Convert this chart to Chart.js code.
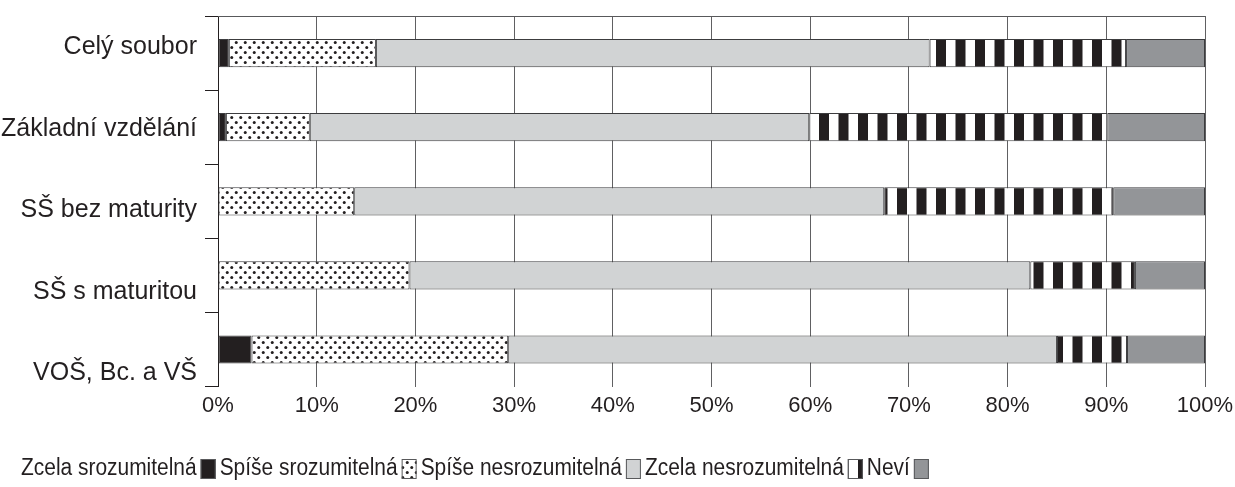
<!DOCTYPE html>
<html lang="cs">
<head>
<meta charset="UTF-8">
<title>Srozumitelnost podle vzdělání</title>
<script src="https://cdn.jsdelivr.net/npm/chart.js@4.4.1/dist/chart.umd.min.js"></script>
<style>
    html, body { margin: 0; padding: 0; background: #fff; }
    .chart-box { position: relative; width: 1235px; height: 487px; }
</style>
</head>
<body>
<div class="chart-box"><canvas id="chart"></canvas></div>
<script>
// data (percent of respondents)
const categories = ['Celý soubor', 'Základní vzdělání', 'SŠ bez maturity', 'SŠ s maturitou', 'VOŠ, Bc. a VŠ'];
const seriesNames = ['Zcela srozumitelná', 'Spíše srozumitelná', 'Spíše nesrozumitelná', 'Zcela nesrozumitelná', 'Neví'];
const zcelaSroz   = [1.1, 0.8, 0, 0, 3.4];
const spiseSroz   = [14.9, 8.5, 13.8, 19.4, 26.0];
const spiseNesroz = [56.1, 50.6, 53.7, 62.9, 55.6];
const zcelaNesroz = [19.9, 30.2, 23.2, 10.6, 7.1];
const nevi        = [8.0, 9.9, 9.3, 7.1, 7.9];
const xTicks = [0, 10, 20, 30, 40, 50, 60, 70, 80, 90, 100];

const INK = '#231f20';
const FONT = '"Liberation Sans", Arial, sans-serif';

// pattern fills
function dotPattern() {
    const c = document.createElement('canvas');
    c.width = 9; c.height = 10;
    const g = c.getContext('2d');
    g.fillStyle = '#fff';
    g.fillRect(0, 0, 9, 10);
    g.fillStyle = INK;
    [[2.25, 2.5], [6.75, 7.5]].forEach(p => {
        g.beginPath();
        g.arc(p[0], p[1], 1.5, 0, Math.PI * 2);
        g.fill();
    });
    return g.createPattern(c, 'repeat');
}
function stripePattern() {
    const c = document.createElement('canvas');
    c.width = 39; c.height = 4;
    const g = c.getContext('2d');
    g.fillStyle = '#fff';
    g.fillRect(0, 0, 39, 4);
    g.fillStyle = INK;
    g.fillRect(0, 0, 10, 4);
    g.fillRect(19.5, 0, 10, 4);
    return g.createPattern(c, 'repeat');
}

const fills = [INK, dotPattern(), '#d1d3d4', stripePattern(), '#939598'];
const values = [zcelaSroz, spiseSroz, spiseNesroz, zcelaNesroz, nevi];

// category labels sit a bit lower each row in the original
const yLabels = {
    id: 'yLabels',
    afterDraw(chart) {
        const { ctx, chartArea } = chart;
        const h = chartArea.bottom - chartArea.top;
        ctx.save();
        ctx.font = '25px ' + FONT;
        ctx.fillStyle = INK;
        ctx.textAlign = 'right';
        ctx.textBaseline = 'middle';
        categories.forEach((name, i) => {
            ctx.fillText(name, chartArea.left - 21, chartArea.top + h * (0.084 + i * 0.22));
        });
        // top frame line
        ctx.strokeStyle = '#58595b';
        ctx.lineWidth = 1;
        ctx.beginPath();
        ctx.moveTo(chartArea.left, chartArea.top + 0.5);
        ctx.lineTo(chartArea.right, chartArea.top + 0.5);
        ctx.stroke();
        ctx.restore();
    }
};

// legend: text first, swatch after it (text a little narrow, like the original)
const textLegend = {
    id: 'textLegend',
    afterDraw(chart) {
        const ctx = chart.ctx;
        const y = 469;
        const squeeze = 0.91;
        let x = 21;
        ctx.save();
        ctx.font = '23px ' + FONT;
        ctx.textBaseline = 'middle';
        ctx.textAlign = 'left';
        chart.data.datasets.forEach(ds => {
            ctx.save();
            ctx.translate(x, y);
            ctx.scale(squeeze, 1);
            ctx.fillStyle = INK;
            ctx.fillText(ds.label, 0, 0);
            ctx.restore();
            x += ctx.measureText(ds.label).width * squeeze + 4;
            ctx.fillStyle = ds.backgroundColor;
            ctx.fillRect(x, y - 10, 15, 20);
            ctx.strokeStyle = '#58595b';
            ctx.lineWidth = 1;
            ctx.strokeRect(x + 0.5, y - 9.5, 14, 19);
            x += 15 + 4;
        });
        ctx.restore();
    }
};

new Chart(document.getElementById('chart'), {
    type: 'bar',
    data: {
        labels: categories,
        datasets: seriesNames.map((name, i) => ({
            label: name,
            data: values[i],
            backgroundColor: fills[i],
            borderColor: '#3c3c3e',
            borderWidth: 1,
            borderSkipped: false,
            categoryPercentage: 1,
            barPercentage: 0.38
        }))
    },
    options: {
        indexAxis: 'y',
        responsive: true,
        maintainAspectRatio: false,
        animation: false,
        events: [],
        layout: { padding: { left: 205, top: 16, right: 30, bottom: 62 } },
        plugins: {
            legend: { display: false },
            tooltip: { enabled: false }
        },
        scales: {
            x: {
                stacked: true,
                min: 0,
                max: 100,
                afterBuildTicks: axis => { axis.ticks = xTicks.map(v => ({ value: v })); },
                afterFit: axis => { axis.paddingRight = 0; axis.paddingLeft = 0; },
                ticks: {
                    callback: v => v + '%',
                    color: INK,
                    font: { family: FONT, size: 22 },
                    padding: 6,
                    maxRotation: 0
                },
                grid: { color: '#606062', lineWidth: 1, drawTicks: false },
                border: { display: false }
            },
            y: {
                stacked: true,
                ticks: { display: false },
                grid: {
                    offset: true,
                    drawOnChartArea: false,
                    tickLength: 13,
                    color: INK,
                    lineWidth: 1
                },
                border: { display: true, color: INK, width: 1 }
            }
        }
    },
    plugins: [yLabels, textLegend]
});
</script>
</body>
</html>
